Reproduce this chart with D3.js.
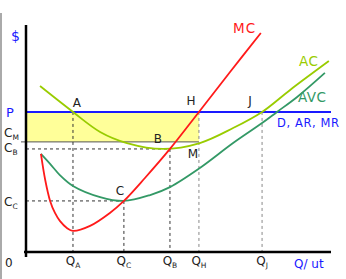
<!DOCTYPE html>
<html lang="en">
<head>
  <meta charset="UTF-8">
  <title>Cost curves</title>
  <style>
      body { margin: 0; background: #fff; }
      text { font-family: "DejaVu Sans", Verdana, sans-serif; }
      .lbl { font-size: 12px; fill: #222; }
      .blue { fill: #1a1aff; }
  </style>
</head>
<body>
<div id="chart"></div>
<script src="https://d3js.org/d3.v7.min.js"></script>
<script>
  // quantities (0-100) and costs (0-100)
  const qLabels = ["A", "C", "B", "H", "J"];
  const qValues = [15.4, 32.1, 47.2, 56.7, 77.4];
  const costLabels = ["M", "B", "C"];
  const costValues = [48.5, 45.4, 22.5];
  const price = 61.7;

  const mcQ = [4.9, 6.3, 7.9, 9.5, 11.1, 13.4, 15.4, 21.0, 27.5, 32.1, 39.0, 47.2, 56.7, 66.9, 77.0];
  const mcC = [43.2, 31.7, 22.5, 17.2, 13.7, 10.6, 9.3, 11.5, 17.2, 22.5, 32.6, 45.4, 61.7, 79.3, 96.5];

  const avcQ = [4.9, 7.9, 11.1, 15.4, 24.3, 32.1, 40.7, 47.2, 57.0, 67.9, 77.4, 82.3, 88.9, 98.0];
  const avcC = [43.2, 38.8, 33.9, 29.1, 24.2, 22.5, 25.1, 28.6, 37.0, 48.0, 56.8, 61.7, 68.3, 78.9];

  const acQ = [4.6, 15.4, 24.3, 33.1, 44.9, 57.0, 67.9, 77.4, 86.6, 99.3];
  const acC = [73.1, 61.7, 52.9, 48.0, 45.4, 48.0, 54.6, 61.7, 71.4, 84.1];

  const W = 346, H = 279;
  const x = d3.scaleLinear().domain([0, 100]).range([26, 331]);
  const y = d3.scaleLinear().domain([0, 100]).range([252, 25]);

  const svg = d3.select("#chart").append("svg")
    .attr("width", W)
    .attr("height", H);

  // grey strip on the left edge
  svg.append("line")
    .attr("x1", 1).attr("x2", 1).attr("y1", 13).attr("y2", H)
    .attr("stroke", "#aaa").attr("stroke-width", 2);

  // shaded profit/loss box between P and C_M up to Q_H
  svg.append("rect")
    .attr("x", x(0)).attr("y", y(price))
    .attr("width", x(qValues[3]) - x(0))
    .attr("height", y(costValues[0]) - y(price))
    .attr("fill", "#ffff99");
  svg.append("line")
    .attr("x1", x(0) - 5).attr("x2", x(qValues[3]))
    .attr("y1", y(costValues[0])).attr("y2", y(costValues[0]))
    .attr("stroke", "#555").attr("stroke-width", 1);

  // dashed guides
  const dash = (x1, y1, x2, y2, col) => svg.append("line")
    .attr("x1", x1).attr("y1", y1).attr("x2", x2).attr("y2", y2)
    .attr("stroke", col).attr("stroke-width", 1)
    .attr("stroke-dasharray", "3,3");

  dash(x(0), y(costValues[1]), x(qValues[2]), y(costValues[1]), "#333");
  dash(x(0), y(costValues[2]), x(qValues[1]), y(costValues[2]), "#333");
  dash(x(qValues[0]), y(price), x(qValues[0]), y(0), "#333");
  dash(x(qValues[1]), y(costValues[2]), x(qValues[1]), y(0), "#333");
  dash(x(qValues[2]), y(costValues[1]), x(qValues[2]), y(0), "#333");
  dash(x(qValues[3]), y(price), x(qValues[3]), y(0), "#888");
  dash(x(qValues[4]), y(price), x(qValues[4]), y(0), "#888");

  // price line
  svg.append("line")
    .attr("x1", x(0)).attr("x2", x(100))
    .attr("y1", y(price)).attr("y2", y(price))
    .attr("stroke", "#1a1aff").attr("stroke-width", 2);

  const line = d3.line()
    .x(d => x(d[0]))
    .y(d => y(d[1]))
    .curve(d3.curveCatmullRom.alpha(0.5));

  const curves = [
    {q: avcQ, c: avcC, color: "#339966"},
    {q: acQ, c: acC, color: "#99cc00"},
    {q: mcQ, c: mcC, color: "#ff1a1a"}
  ];
  curves.forEach(cv => {
    svg.append("path")
      .datum(d3.zip(cv.q, cv.c))
      .attr("d", line)
      .attr("fill", "none")
      .attr("stroke", cv.color)
      .attr("stroke-width", 1.8);
  });

  // axes
  svg.append("line")
    .attr("x1", x(0)).attr("x2", x(0))
    .attr("y1", y(100)).attr("y2", y(0) + 5)
    .attr("stroke", "#000").attr("stroke-width", 2.5);
  svg.append("line")
    .attr("x1", x(0) - 2).attr("x2", x(100))
    .attr("y1", y(0)).attr("y2", y(0))
    .attr("stroke", "#000").attr("stroke-width", 2.5);

  // tick labels with subscripts
  const sub = (g, main, s, sx, sy, anchor) => {
    const t = g.append("text").attr("class", "lbl")
      .attr("x", sx).attr("y", sy).attr("text-anchor", anchor);
    t.append("tspan").text(main);
    t.append("tspan").attr("dy", 3).style("font-size", "7.5px").text(s);
    return t;
  };

  qLabels.forEach((l, i) => sub(svg, "Q", l, x(qValues[i]), 265, "middle"));
  const cOff = [-5, 3, 5];
  costLabels.forEach((l, i) => sub(svg, "C", l, 4, y(costValues[i]) + cOff[i], "start"));

  svg.append("text").attr("class", "lbl").attr("x", 5).attr("y", 267).text("0");
  svg.append("text").attr("class", "blue").attr("x", 11).attr("y", 41)
    .style("font-size", "14px").text("$");
  svg.append("text").attr("class", "blue").attr("x", 6).attr("y", y(price) + 5)
    .style("font-size", "13px").text("P");
  svg.append("text").attr("class", "blue").attr("x", 294).attr("y", 268)
    .style("font-size", "12px").text("Q/ ut");

  // curve names
  svg.append("text").attr("x", 233).attr("y", 33).attr("fill", "#ff1a1a")
    .style("font-size", "13.5px").style("letter-spacing", "1px").text("MC");
  svg.append("text").attr("x", 299).attr("y", 66).attr("fill", "#99cc00")
    .style("font-size", "13.5px").style("letter-spacing", "0.5px").text("AC");
  svg.append("text").attr("x", 298).attr("y", 102).attr("fill", "#339966")
    .style("font-size", "13.5px").style("letter-spacing", "0.5px").text("AVC");
  svg.append("text").attr("class", "blue").attr("x", 277).attr("y", 127)
    .style("font-size", "11.5px").style("letter-spacing", "0.6px").text("D, AR, MR");

  // point labels
  const pts = [
    ["A", x(qValues[0]) + 4, y(price) - 5],
    ["H", x(qValues[3]) - 8, y(price) - 7],
    ["J", x(qValues[4]) - 12, y(price) - 7],
    ["B", x(qValues[2]) - 12, y(costValues[0]) + 1],
    ["M", x(qValues[3]) - 6, y(costValues[1]) + 9],
    ["C", x(qValues[1]) - 4, y(costValues[2]) - 6]
  ];
  pts.forEach(p => svg.append("text").attr("class", "lbl")
    .attr("x", p[1]).attr("y", p[2]).attr("text-anchor", "middle").text(p[0]));
</script>
</body>
</html>
